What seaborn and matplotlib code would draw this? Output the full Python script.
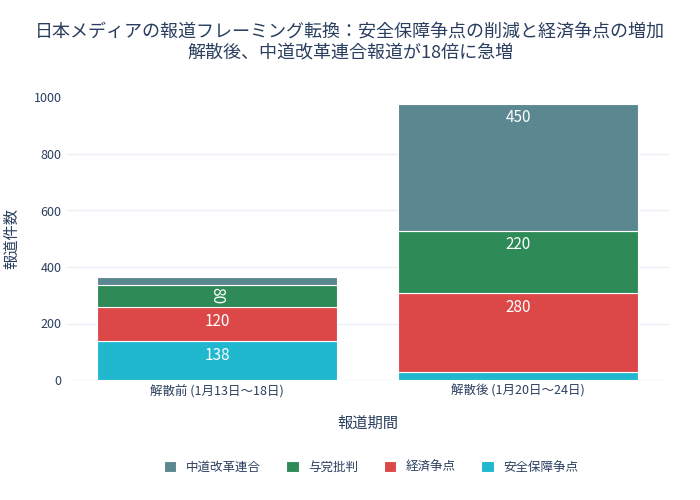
import matplotlib.pyplot as plt
import seaborn as sns
import numpy as np

periods = ["解散前 (1月13日〜18日)", "解散後 (1月20日〜24日)"]
security = [138, 28]
economy = [120, 280]
ruling = [80, 220]
chudo = [25, 450]

series = [("安全保障争点", security, "#20b8cf"),
          ("経済争点", economy, "#dc4848"),
          ("与党批判", ruling, "#2e8b57"),
          ("中道改革連合", chudo, "#5b8890")]

sns.set_theme(style="white")
plt.rcParams['font.family'] = ['Noto Sans CJK JP', 'DejaVu Sans']

fig, ax = plt.subplots(figsize=(7, 5), dpi=100)
fig.subplots_adjust(left=0.095, right=0.955, top=0.805, bottom=0.24)

bottom = np.zeros(len(periods))
x = np.arange(len(periods))
handles = []
for name, vals, color in series:
    bars = ax.bar(x, vals, bottom=bottom, width=0.8, color=color,
                  edgecolor="white", linewidth=0.8, label=name, zorder=3)
    handles.append(bars)
    for rect, v in zip(bars, vals):
        h = rect.get_height()
        if h < 40:
            continue
        top = rect.get_y() + h
        rot = h < 100
        ax.text(rect.get_x() + rect.get_width() / 2, top - (h / 2 if rot else 50),
                str(v), ha="center", va="center", color="white", fontsize=11,
                rotation=-90 if rot else 0, zorder=4)
    bottom += np.array(vals)

ax.set_xticks(x)
ax.set_xticklabels(periods, fontsize=9, color="#2a3f5f")
ax.set_xlim(-0.5, 1.5)
ax.set_ylim(0, 1000)
ax.set_yticks(range(0, 1001, 200))
ax.tick_params(axis="y", labelsize=9, labelcolor="#2a3f5f", length=0)
ax.tick_params(axis="x", length=0)
ax.grid(axis="y", color="#ebf0f8", zorder=0)
for s in ax.spines.values():
    s.set_visible(False)
ax.axhline(0, color="#ebf0f8", lw=1, zorder=1)
ax.set_xlabel("報道期間", fontsize=11, color="#2a3f5f", labelpad=12)
ax.set_ylabel("報道件数", fontsize=11, color="#2a3f5f", labelpad=10)
fig.suptitle("日本メディアの報道フレーミング転換：安全保障争点の削減と経済争点の増加\n解散後、中道改革連合報道が18倍に急増",
             fontsize=13, color="#2a3f5f", y=0.955, linespacing=1.2)

order = [3, 2, 1, 0]
fig.legend([handles[i] for i in order], [series[i][0] for i in order],
           loc="lower center", ncol=4, frameon=False, fontsize=9,
           bbox_to_anchor=(0.53, 0.03), handlelength=1, handleheight=1,
           columnspacing=2.0, labelcolor="#2a3f5f")

fig.savefig("out.png")
